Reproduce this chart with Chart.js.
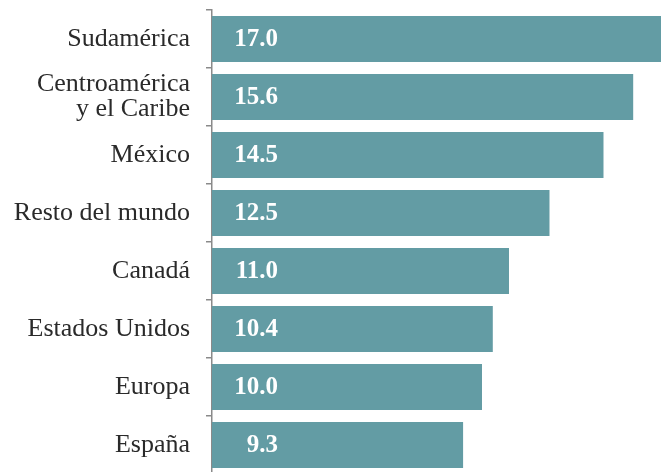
<!DOCTYPE html>
<html>
<head>
<meta charset="utf-8">
<script src="https://cdn.jsdelivr.net/npm/chart.js@4"></script>
<style>
  html, body { margin: 0; padding: 0; background: #fff; overflow: hidden; }
  #wrap { width: 661px; height: 474px; }
</style>
</head>
<body>
<div id="wrap"><canvas id="myChart" width="661" height="474"></canvas></div>
<script>
// Datos del gráfico
var regiones = ['Sudamérica', ['Centroamérica', 'y el Caribe'], 'México', 'Resto del mundo',
                'Canadá', 'Estados Unidos', 'Europa', 'España'];
var valores = [17.0, 15.6, 14.5, 12.5, 11.0, 10.4, 10.0, 9.3];
var etiquetas = ['17.0', '15.6', '14.5', '12.5', '11.0', '10.4', '10.0', '9.3'];

var fuente = "'Liberation Serif', 'Times New Roman', serif";

// Etiquetas blancas dentro de cada barra
var valoresPlugin = {
    id: 'valoresPlugin',
    afterDatasetsDraw: function(chart) {
        var ctx = chart.ctx;
        var meta = chart.getDatasetMeta(0);
        ctx.save();
        ctx.fillStyle = '#ffffff';
        ctx.font = 'bold 25px ' + fuente;
        ctx.textAlign = 'right';
        ctx.textBaseline = 'middle';
        meta.data.forEach(function(bar, i) {
            ctx.fillText(etiquetas[i], bar.base + 66, bar.y + 1);
        });
        ctx.restore();
    }
};

var ctx = document.getElementById('myChart').getContext('2d');
var myChart = new Chart(ctx, {
    type: 'bar',
    data: {
        labels: regiones,
        datasets: [{
            data: valores,
            backgroundColor: '#639ca4',
            borderWidth: 0,
            barPercentage: 0.795,
            categoryPercentage: 1
        }]
    },
    options: {
        indexAxis: 'y',
        responsive: false,
        animation: false,
        layout: { padding: { top: 10, right: 0, bottom: 0, left: 0 } },
        plugins: {
            legend: { display: false },
            tooltip: { enabled: false }
        },
        scales: {
            x: {
                display: false,
                min: 0,
                max: 16.63
            },
            y: {
                afterFit: function(scale) {
                    scale.width = 212;
                    scale.paddingTop = 0;
                    scale.paddingBottom = 0;
                },
                border: { display: true, color: '#8a8a8a', width: 1.5 },
                grid: {
                    display: true,
                    offset: true,
                    drawOnChartArea: false,
                    drawTicks: true,
                    tickLength: 6,
                    color: '#8a8a8a',
                    lineWidth: 1.5
                },
                ticks: {
                    color: '#2a2a2a',
                    padding: 16,
                    font: { family: fuente, size: 26, lineHeight: 0.96 }
                }
            }
        }
    },
    plugins: [valoresPlugin]
});
</script>
</body>
</html>
